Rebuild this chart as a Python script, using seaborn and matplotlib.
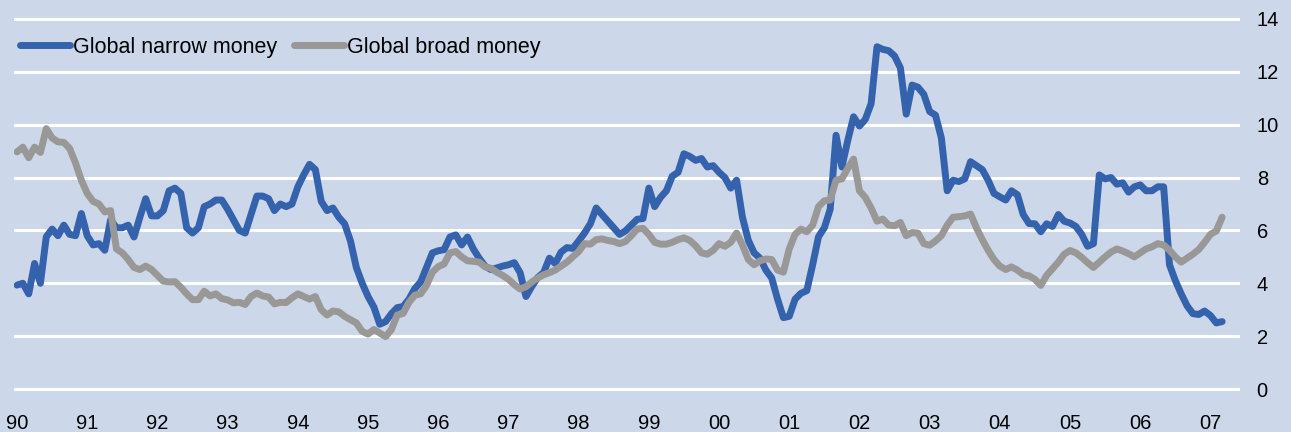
import numpy as np
import pandas as pd
import matplotlib
matplotlib.use('Agg')
import matplotlib.pyplot as plt
import seaborn as sns

# monthly growth rates, Jan 1990 - Mar 2007
narrow_money = [
    3.93, 4.0, 3.6, 4.75, 4.0, 5.76, 6.05, 5.8, 6.2, 5.85, 5.8, 6.64,      # 1990
    5.8, 5.45, 5.5, 5.25, 6.4, 6.1, 6.1, 6.2, 5.75, 6.5, 7.2, 6.55,        # 1991
    6.55, 6.75, 7.5, 7.6, 7.4, 6.1, 5.9, 6.1, 6.9, 7.0, 7.15, 7.15,        # 1992
    6.8, 6.4, 6.0, 5.9, 6.6, 7.3, 7.3, 7.2, 6.75, 7.0, 6.9, 7.0,           # 1993
    7.65, 8.1, 8.5, 8.3, 7.1, 6.75, 6.85, 6.5, 6.25, 5.6, 4.6, 4.0,        # 1994
    3.5, 3.1, 2.45, 2.55, 2.85, 3.08, 3.12, 3.4, 3.8, 4.05, 4.6, 5.15,     # 1995
    5.23, 5.27, 5.75, 5.83, 5.45, 5.75, 5.3, 4.95, 4.65, 4.52, 4.58, 4.65, # 1996
    4.7, 4.78, 4.4, 3.5, 3.88, 4.22, 4.4, 4.95, 4.75, 5.18, 5.35, 5.32,    # 1997
    5.6, 5.9, 6.25, 6.85, 6.6, 6.35, 6.1, 5.85, 5.98, 6.2, 6.42, 6.45,     # 1998
    7.6, 6.9, 7.25, 7.5, 8.05, 8.2, 8.9, 8.8, 8.65, 8.72, 8.4, 8.45,       # 1999
    8.2, 8.0, 7.6, 7.9, 6.5, 5.63, 5.15, 4.95, 4.5, 4.2, 3.4, 2.7,         # 2000
    2.75, 3.4, 3.62, 3.72, 4.7, 5.76, 6.1, 6.8, 9.6, 8.4, 9.4, 10.3,       # 2001
    9.95, 10.2, 10.8, 12.95, 12.85, 12.8, 12.6, 12.15, 10.4, 11.5, 11.42, 11.15,  # 2002
    10.5, 10.36, 9.5, 7.5, 7.9, 7.85, 7.95, 8.6, 8.45, 8.3, 7.9, 7.4,      # 2003
    7.27, 7.15, 7.5, 7.35, 6.6, 6.26, 6.25, 5.95, 6.25, 6.15, 6.6, 6.35,   # 2004
    6.28, 6.15, 5.85, 5.4, 5.5, 8.1, 7.95, 8.0, 7.75, 7.8, 7.45, 7.65,     # 2005
    7.72, 7.5, 7.5, 7.65, 7.65, 4.7, 4.1, 3.6, 3.15, 2.85, 2.82, 2.95,     # 2006
    2.78, 2.5, 2.55,                                                       # 2007
]
broad_money = [
    8.97, 9.15, 8.75, 9.15, 8.95, 9.85, 9.5, 9.35, 9.33, 9.1, 8.55, 7.9,   # 1990
    7.4, 7.1, 7.0, 6.7, 6.75, 5.3, 5.15, 4.9, 4.6, 4.52, 4.65, 4.52,       # 1991
    4.3, 4.08, 4.05, 4.06, 3.85, 3.6, 3.38, 3.38, 3.7, 3.52, 3.6, 3.42,    # 1992
    3.37, 3.26, 3.28, 3.2, 3.5, 3.63, 3.52, 3.48, 3.22, 3.28, 3.27, 3.45,  # 1993
    3.6, 3.5, 3.4, 3.5, 3.0, 2.8, 2.95, 2.92, 2.75, 2.62, 2.5, 2.18,       # 1994
    2.08, 2.25, 2.12, 1.98, 2.25, 2.8, 2.86, 3.28, 3.55, 3.6, 3.92, 4.42,  # 1995
    4.63, 4.73, 5.15, 5.2, 5.0, 4.85, 4.83, 4.8, 4.62, 4.57, 4.42, 4.3,    # 1996
    4.15, 3.95, 3.78, 3.87, 4.05, 4.2, 4.32, 4.4, 4.5, 4.65, 4.8, 5.0,     # 1997
    5.2, 5.5, 5.48, 5.65, 5.68, 5.62, 5.58, 5.5, 5.58, 5.8, 6.05, 6.08,    # 1998
    5.85, 5.55, 5.48, 5.48, 5.55, 5.65, 5.72, 5.62, 5.42, 5.15, 5.1, 5.25, # 1999
    5.5, 5.4, 5.55, 5.9, 5.45, 4.9, 4.7, 4.85, 4.92, 4.9, 4.5, 4.42,       # 2000
    5.3, 5.85, 6.05, 5.95, 6.2, 6.9, 7.12, 7.15, 7.9, 7.95, 8.35, 8.7,     # 2001
    7.5, 7.25, 6.85, 6.35, 6.43, 6.2, 6.18, 6.3, 5.8, 5.92, 5.9, 5.5,      # 2002
    5.44, 5.6, 5.8, 6.2, 6.5, 6.52, 6.55, 6.62, 6.1, 5.65, 5.25, 4.9,      # 2003
    4.65, 4.52, 4.62, 4.5, 4.33, 4.28, 4.15, 3.92, 4.3, 4.55, 4.8, 5.1,    # 2004
    5.24, 5.15, 4.98, 4.78, 4.6, 4.8, 5.0, 5.18, 5.3, 5.22, 5.12, 5.0,     # 2005
    5.15, 5.3, 5.38, 5.5, 5.45, 5.25, 5.0, 4.8, 4.95, 5.1, 5.28, 5.55,     # 2006
    5.85, 5.98, 6.5,                                                       # 2007
]
series_names = ['Global narrow money', 'Global broad money']
year_ticks = list(range(1990, 2008))
year_labels = [f'{y % 100:02d}' for y in year_ticks]
y_ticks = list(range(0, 15, 2))

BG = '#ccd8ea'
BLUE = '#3462ad'
GREY = '#9a9896'

n = len(narrow_money)
years = 1990 + np.arange(n) / 12
df = pd.concat([
    pd.DataFrame({'year': years, 'value': narrow_money, 'series': series_names[0]}),
    pd.DataFrame({'year': years, 'value': broad_money, 'series': series_names[1]}),
])

sns.set_style('white', {'axes.facecolor': BG, 'figure.facecolor': BG})
plt.rcParams['font.family'] = ['Liberation Sans', 'DejaVu Sans']
plt.rcParams['text.color'] = 'black'
plt.rcParams['lines.solid_capstyle'] = 'round'
plt.rcParams['lines.solid_joinstyle'] = 'round'

fig = plt.figure(figsize=(12.91, 4.32), dpi=100)
ax = fig.add_axes([14 / 1291, 0.0873, 1226 / 1291, 0.881])

sns.lineplot(data=df, x='year', y='value', hue='series', palette=[BLUE, GREY],
             linewidth=5.0, estimator=None, ax=ax)

ax.set_xlim(1989.957, 2007.421)
ax.set_ylim(-0.2, 14.2)
ax.set_xticks(year_ticks)
ax.set_xticklabels(year_labels)
ax.set_yticks(y_ticks)
ax.yaxis.tick_right()
ax.grid(axis='y', color='white', linewidth=2.2)
ax.set_axisbelow(True)
ax.tick_params(axis='both', length=0, labelsize=14.5, colors='black')
ax.tick_params(axis='x', pad=14)
ax.tick_params(axis='y', pad=12)
ax.set_xlabel('')
ax.set_ylabel('')
sns.despine(ax=ax, left=True, bottom=True, right=True, top=True)

handles, labels = ax.get_legend_handles_labels()
ax.legend(handles, labels, loc='center left', bbox_to_anchor=(20 / 1291, 1 - 47 / 432),
          bbox_transform=fig.transFigure, ncol=2, frameon=False, fontsize=15.5,
          handlelength=2.33, handletextpad=0.15, columnspacing=0.75,
          borderpad=0, borderaxespad=0, labelcolor='black')

fig.savefig('out.png', dpi=100, facecolor=BG)
